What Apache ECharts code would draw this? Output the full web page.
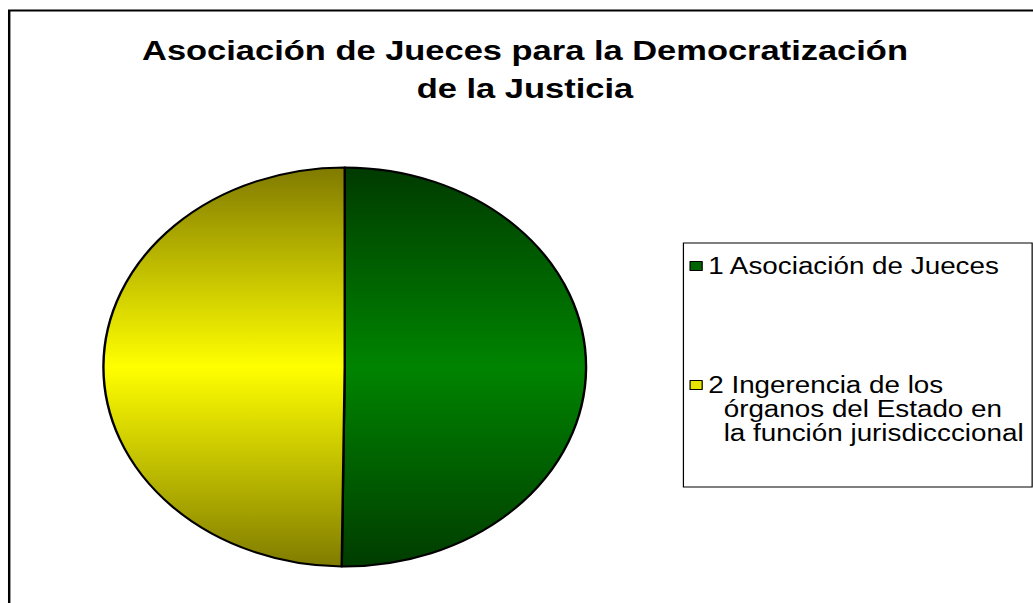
<!DOCTYPE html>
<html>
<head>
<meta charset="utf-8">
<title>Asociación de Jueces para la Democratización de la Justicia</title>
<script src="https://cdn.jsdelivr.net/npm/echarts@6/dist/echarts.min.js"></script>
<style>
  html, body { margin: 0; padding: 0; background: #fff; overflow: hidden; }
  #wrap { position: absolute; left: 0; top: 0; width: 1033px; height: 603px; overflow: hidden; }
  /* the chart is laid out on a narrower canvas and widened, which gives the oval pie and wide lettering */
  #chart { position: absolute; left: 0; top: 0; width: 854px; height: 603px; transform-origin: 0 0; transform: scaleX(1.2096); }
</style>
</head>
<body>
<div id="wrap"><div id="chart"></div></div>
<script>
// Chart text
const titleLines = ['Asociación de Jueces para la Democratización', 'de la Justicia'];
// Legend entries, one array of wrapped lines per slice
const legendLines = [
  ['1 Asociación de Jueces'],
  ['2 Ingerencia de los', 'órganos del Estado en', 'la función jurisdicccional']
];
const categories = legendLines.map(function (l) { return l.join(' '); });
// Share of each slice (%)
const values = [50.2, 49.8];

const FONT = '"Liberation Sans", Arial, sans-serif';

function band(dark, light, dark2) {
  return new echarts.graphic.LinearGradient(0, 0, 0, 1, [
    { offset: 0, color: dark },
    { offset: 0.5, color: light },
    { offset: 1, color: dark2 }
  ]);
}
const sliceFills = [band('#003a00', '#008400', '#003c00'), band('#807a00', '#ffff00', '#807c00')];
const legendFills = ['#006400', '#e6e600'];

const chart = echarts.init(document.getElementById('chart'), null, { renderer: 'svg' });

chart.setOption({
  animation: false,
  backgroundColor: '#fff',
  title: {
    text: titleLines.join('\n'),
    left: 434,
    top: 31,
    padding: 0,
    textAlign: 'center',
    textStyle: { fontFamily: FONT, fontSize: 28.5, fontWeight: 'bold', color: '#000', lineHeight: 38 }
  },
  legend: {
    orient: 'vertical',
    left: 565,
    top: 243,
    padding: [11, 7, 42, 5],
    itemGap: 47,
    itemWidth: 10,
    itemHeight: 9,
    icon: 'rect',
    selectedMode: false,
    backgroundColor: '#fff',
    borderColor: '#000',
    borderWidth: 1,
    data: categories.map(function (name, i) {
      return { name: name, itemStyle: { color: legendFills[i], borderColor: '#000', borderWidth: 1 } };
    }),
    formatter: function (name) {
      const lines = legendLines[categories.indexOf(name)];
      // blank lines above keep the marker level with the first line of a wrapped entry
      return '\n'.repeat(lines.length - 1) + lines.join('\n  ');
    },
    textStyle: { fontFamily: FONT, fontSize: 23, lineHeight: 24, color: '#000' }
  },
  graphic: [{
    type: 'rect',
    silent: true,
    z: -1,
    shape: { x: 7.6, y: 10.5, width: 900, height: 700 },
    style: { fill: 'none', stroke: '#000', lineWidth: 2 }
  }],
  series: [{
    type: 'pie',
    center: [285, 367],
    radius: 199.5,
    startAngle: 90,
    clockwise: true,
    silent: true,
    label: { show: false },
    labelLine: { show: false },
    emphasis: { disabled: true },
    itemStyle: { borderColor: '#000', borderWidth: 2 },
    data: categories.map(function (name, i) {
      return { name: name, value: values[i], itemStyle: { color: sliceFills[i] } };
    })
  }]
});
</script>
</body>
</html>
